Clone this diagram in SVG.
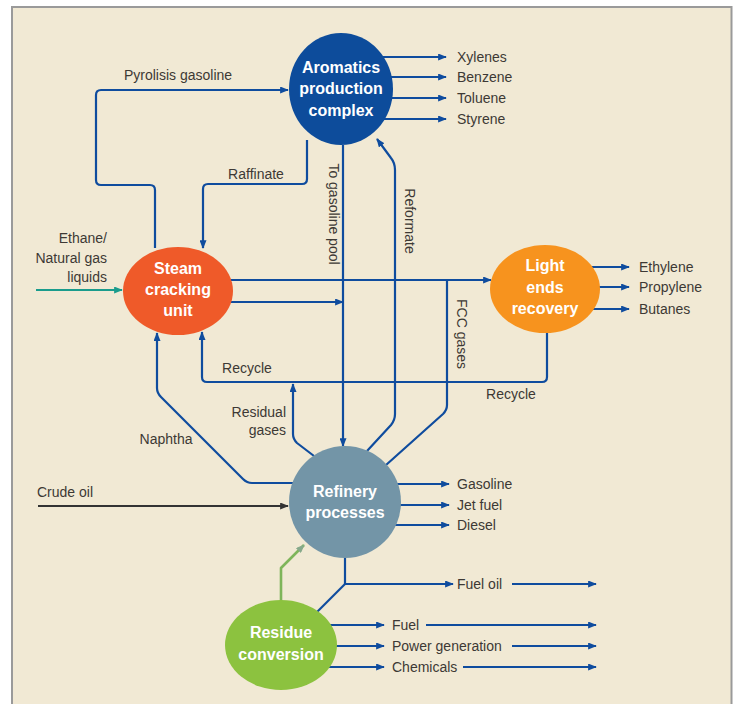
<svg xmlns="http://www.w3.org/2000/svg" width="735" height="704" viewBox="0 0 735 704">
<defs>
<style>
.c{fill:none;stroke:#0f4c9e;stroke-width:2.2;stroke-linejoin:round}
.ca{fill:none;stroke:#0f4c9e;stroke-width:2.2;stroke-linejoin:round;marker-end:url(#ab)}
.t{font-family:"Liberation Sans",Arial,sans-serif;font-size:14px;fill:#3d3935}
.n{font-family:"Liberation Sans",Arial,sans-serif;font-size:16px;font-weight:bold;fill:#ffffff;text-anchor:middle}
</style>
<marker id="ab" viewBox="0 0 10 8" refX="9" refY="4" markerWidth="9" markerHeight="7" markerUnits="userSpaceOnUse" orient="auto"><path d="M0,0 L10,4 L0,8 z" fill="#0f4c9e"/></marker>
<marker id="at" viewBox="0 0 10 8" refX="9" refY="4" markerWidth="9" markerHeight="7" markerUnits="userSpaceOnUse" orient="auto"><path d="M0,0 L10,4 L0,8 z" fill="#1a9c8c"/></marker>
<marker id="ak" viewBox="0 0 10 8" refX="9" refY="4" markerWidth="9" markerHeight="7" markerUnits="userSpaceOnUse" orient="auto"><path d="M0,0 L10,4 L0,8 z" fill="#333333"/></marker>
<marker id="ag" viewBox="0 0 10 8" refX="9" refY="4" markerWidth="9" markerHeight="7" markerUnits="userSpaceOnUse" orient="auto"><path d="M0,0 L10,4 L0,8 z" fill="#86a98a"/></marker>
</defs>
<rect x="0" y="0" width="735" height="704" fill="#ffffff"/>
<rect x="12" y="7" width="719.5" height="702" fill="#f1e9d4" stroke="#9a9a9a" stroke-width="2"/>

<g id="connectors">
<path class="ca" d="M155,248 V190 Q155,185 150,185 H101 Q96,185 96,180 V95 Q96,90 101,90 H288"/>
<path class="ca" d="M307,140 V179 Q307,184 302,184 H208 Q203,184 203,189 V248"/>
<path class="ca" d="M343,145 V446"/>
<path class="ca" d="M230,280 H491"/>
<path class="ca" d="M228,302 H343"/>
<path class="c" d="M386,465 L443,414 Q447,410 447,405 V280"/>
<path class="ca" d="M367,451 L391,425 Q395,420 395,414 V170 Q395,163 391,158 L377,139"/>
<path class="ca" d="M314,456 L297,443 Q293,439 293,434 V384"/>
<path class="ca" d="M295,483 H252 Q247,483 243,479 L161,397 Q157,393 157,388 V333"/>
<path class="ca" d="M547,333 V377 Q547,382 542,382 H207 Q202,382 202,377 V332"/>
<path d="M38,506 H288" fill="none" stroke="#333333" stroke-width="2.2" marker-end="url(#ak)"/>
<path d="M36,290 H122" fill="none" stroke="#1a9c8c" stroke-width="2.2" marker-end="url(#at)"/>
<path class="ca" d="M375,57 H446"/>
<path class="ca" d="M375,77 H446"/>
<path class="ca" d="M375,98 H446"/>
<path class="ca" d="M375,119 H446"/>
<path class="ca" d="M585,267 H629"/>
<path class="ca" d="M585,287 H629"/>
<path class="ca" d="M585,309 H629"/>
<path class="ca" d="M390,484 H449"/>
<path class="ca" d="M390,505 H449"/>
<path class="ca" d="M390,525 H449"/>
<path class="ca" d="M345,556 V584 H453"/>
<path class="c" d="M317,612 L345,584"/>
<path class="ca" d="M512,584 H596"/>
<path class="ca" d="M325,625 H384"/>
<path class="ca" d="M325,646 H384"/>
<path class="ca" d="M325,667 H384"/>
<path class="ca" d="M426,625 H596"/>
<path class="ca" d="M512,646 H596"/>
<path class="ca" d="M463,667 H596"/>
<path d="M281,601 V568 L304,545" fill="none" stroke="#7fb55a" stroke-width="2.6" stroke-linejoin="round" marker-end="url(#ag)"/>
</g>

<g id="labels">
<text class="t" x="178" y="80" text-anchor="middle">Pyrolisis gasoline</text>
<text class="t" x="256" y="179" text-anchor="middle">Raffinate</text>
<text class="t" transform="translate(329,214) rotate(90)" text-anchor="middle">To gasoline pool</text>
<text class="t" transform="translate(405,221) rotate(90)" text-anchor="middle">Reformate</text>
<text class="t" transform="translate(457,334) rotate(90)" text-anchor="middle">FCC gases</text>
<text class="t" x="107" y="243" text-anchor="end">Ethane/</text>
<text class="t" x="107" y="263" text-anchor="end">Natural gas</text>
<text class="t" x="107" y="282" text-anchor="end">liquids</text>
<text class="t" x="247" y="373" text-anchor="middle">Recycle</text>
<text class="t" x="511" y="399" text-anchor="middle">Recycle</text>
<text class="t" x="286" y="417" text-anchor="end">Residual</text>
<text class="t" x="286" y="435" text-anchor="end">gases</text>
<text class="t" x="166" y="444" text-anchor="middle">Naphtha</text>
<text class="t" x="37" y="497">Crude oil</text>
<text class="t" x="457" y="62">Xylenes</text>
<text class="t" x="457" y="82">Benzene</text>
<text class="t" x="457" y="103">Toluene</text>
<text class="t" x="457" y="124">Styrene</text>
<text class="t" x="639" y="272">Ethylene</text>
<text class="t" x="639" y="292">Propylene</text>
<text class="t" x="639" y="314">Butanes</text>
<text class="t" x="457" y="489">Gasoline</text>
<text class="t" x="457" y="510">Jet fuel</text>
<text class="t" x="457" y="530">Diesel</text>
<text class="t" x="457" y="589">Fuel oil</text>
<text class="t" x="392" y="630">Fuel</text>
<text class="t" x="392" y="651">Power generation</text>
<text class="t" x="392" y="672">Chemicals</text>
</g>

<g id="aromatics">
<ellipse cx="341" cy="89" rx="52" ry="56" fill="#0d4c9b"/>
<text class="n" x="341" y="73">Aromatics</text>
<text class="n" x="341" y="94">production</text>
<text class="n" x="341" y="116">complex</text>
</g>
<g id="steam">
<ellipse cx="178" cy="291" rx="55" ry="44" fill="#ef5a29"/>
<text class="n" x="178" y="274">Steam</text>
<text class="n" x="178" y="295">cracking</text>
<text class="n" x="178" y="316">unit</text>
</g>
<g id="lightends">
<ellipse cx="545" cy="289" rx="55" ry="44" fill="#f7931e"/>
<text class="n" x="545" y="271">Light</text>
<text class="n" x="545" y="293">ends</text>
<text class="n" x="545" y="314">recovery</text>
</g>
<g id="refinery">
<ellipse cx="345" cy="502" rx="56" ry="56" fill="#7395a7"/>
<text class="n" x="345" y="497">Refinery</text>
<text class="n" x="345" y="518">processes</text>
</g>
<g id="residue">
<ellipse cx="281" cy="645" rx="56" ry="45" fill="#8cc23f"/>
<text class="n" x="281" y="638">Residue</text>
<text class="n" x="281" y="660">conversion</text>
</g>
</svg>
